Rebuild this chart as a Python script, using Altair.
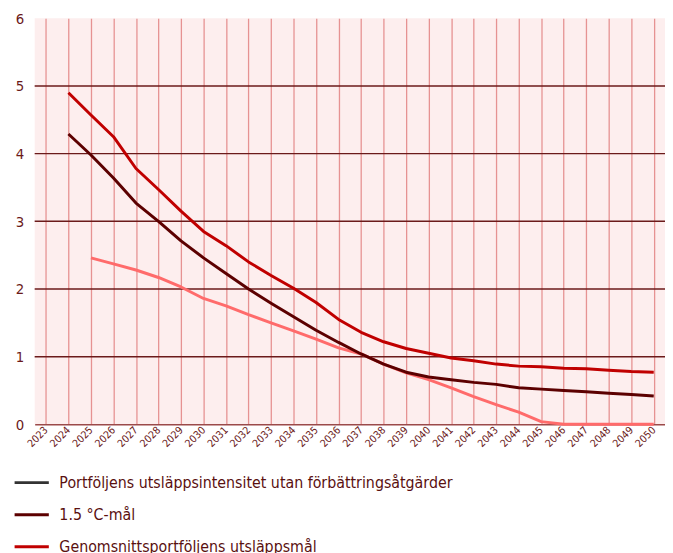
import altair as alt
import pandas as pd

years = list(range(2023, 2051))
year_labels = [str(y) for y in years]

s_none = "Portföljens utsläppsintensitet utan förbättringsåtgärder"
s_15 = "1.5 °C-mål"
s_avg = "Genomsnittsportföljens utsläppsmål"
s_port = "Portföljens utsläppsintensitet"

# values per year (None = no value)
vals_port = [None, None, 2.46, 2.37, 2.28, 2.17, 2.03, 1.86, 1.75, 1.62, 1.50, 1.38, 1.26,
             1.13, 1.04, 0.89, 0.76, 0.66, 0.54, 0.41, 0.29, 0.18, 0.04, 0.0, 0.0, 0.0, 0.0, 0.0]
vals_15 = [None, 4.29, 3.98, 3.64, 3.27, 3.00, 2.71, 2.46, 2.23, 2.00, 1.79, 1.59, 1.39,
           1.21, 1.04, 0.89, 0.77, 0.70, 0.66, 0.62, 0.59, 0.54, 0.52, 0.50, 0.48, 0.46, 0.44, 0.42]
vals_avg = [None, 4.90, 4.57, 4.25, 3.78, 3.47, 3.15, 2.85, 2.64, 2.40, 2.20, 2.01, 1.80,
            1.55, 1.36, 1.22, 1.12, 1.05, 0.98, 0.94, 0.89, 0.86, 0.85, 0.83, 0.82, 0.80, 0.78, 0.77]

grid_y = [1, 2, 3, 4, 5]
y_ticks = [0, 1, 2, 3, 4, 5, 6]

series_names = [s_none, s_15, s_avg, s_port]
series_colors = ["#333333", "#5c0000", "#c00000", "#ff6b6b"]

rows = []
for name, vals in [(s_port, vals_port), (s_15, vals_15), (s_avg, vals_avg)]:
    for y, v in zip(year_labels, vals):
        if v is not None:
            rows.append({"year": y, "value": v, "series": name})
df = pd.DataFrame(rows)

maroon = "#6b1a1a"
font = "Liberation Sans Narrow, DejaVu Sans Condensed, Roboto, sans-serif"

x_scale = alt.Scale(domain=year_labels, padding=0.5)
y_scale = alt.Scale(domain=[0, 6], nice=False)

hgrid = alt.Chart(pd.DataFrame({"g": grid_y})).mark_rule(
    color=maroon, strokeWidth=1.5
).encode(y=alt.Y("g:Q", scale=y_scale))

lines = alt.Chart(df).mark_line(strokeWidth=3, strokeJoin="round").encode(
    x=alt.X("year:O", scale=x_scale, sort=year_labels,
            axis=alt.Axis(title=None, labelAngle=-45, labelAlign="right",
                          labelBaseline="middle", labelFontSize=10.5, labelColor=maroon,
                          labelFont=font, labelPadding=4, ticks=False, domain=True,
                          domainColor="#9b4a4a", domainWidth=1.5,
                          grid=True, gridColor="#e07b7b", gridOpacity=0.8, gridWidth=1.3)),
    y=alt.Y("value:Q", scale=y_scale,
            axis=alt.Axis(title=None, values=y_ticks, format="d", grid=False, ticks=False,
                          domain=False, labelFontSize=15, labelColor=maroon, labelFont=font,
                          labelPadding=11)),
    color=alt.Color("series:N",
                    scale=alt.Scale(domain=series_names, range=series_colors),
                    legend=alt.Legend(title=None, orient="none", legendX=-22, legendY=451,
                                      direction="vertical",
                                      values=[s_none, s_15, s_avg],
                                      symbolType="stroke", symbolSize=1200,
                                      symbolStrokeWidth=3, labelFontSize=16,
                                      labelColor="#5a1010", labelFont=font,
                                      labelOffset=9, rowPadding=5.5, padding=0,
                                      labelLimit=600)),
    strokeWidth=alt.StrokeWidth("series:N",
                                scale=alt.Scale(domain=series_names, range=[3, 3, 3, 4.5]),
                                legend=None),
    order=alt.Order("series:N"),
)

chart = alt.layer(hgrid, lines).properties(
    width=638, height=411,
    autosize=alt.AutoSizeParams(type="none"),
    padding={"left": 27, "top": 7, "right": 0, "bottom": 140},
).configure_view(fill="#fdeeee", stroke=None)

chart.save("out.html", embed_options={"renderer": "svg", "actions": False})
